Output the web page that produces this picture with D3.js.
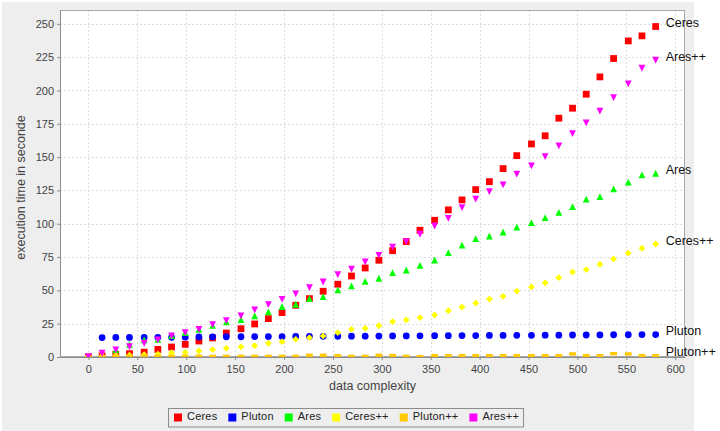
<!DOCTYPE html>
<html>
<head>
<meta charset="utf-8">
<script src="https://cdn.jsdelivr.net/npm/d3@7"></script>
<style>
  html, body { margin: 0; padding: 0; background: #ffffff; }
  svg { display: block; font-family: "Liberation Sans", Arial, sans-serif; }
</style>
</head>
<body>
<svg id="chart" width="720" height="431"></svg>
<script>
// Data complexity (x) for every measurement
const complexity = [0, 14, 28, 42, 57, 71, 85, 99, 113, 127, 141, 156, 170, 184, 198, 212, 226, 240, 255, 269,
  283, 297, 311, 325, 339, 354, 368, 382, 396, 410, 424, 438, 453, 467, 481, 495, 509, 523, 537, 552, 566, 580];

// Execution times in seconds, one array per solver
const ceres = [0, 0.8, 2, 2.5, 3.6, 5.7, 7.5, 9.5, 12, 14.3, 18, 21.2, 24.8, 28.8, 33.3, 38.8, 43.8, 49.3, 54.6, 60.8,
  66.8, 72.6, 79.8, 86.6, 95.1, 102.6, 110.4, 117.9, 125.6, 131.6, 141.4, 151.1, 159.9, 166, 179.2, 186.7, 197.2, 210.2, 224, 237.2, 241, 248];
const pluton = [null, 14.6, 14.7, 14.7, 14.8, 14.8, 14.8, 14.9, 15.0, 15.1, 15.2, 15.2, 15.3, 15.3, 15.3, 15.4, 15.4, 15.5, 15.5, 15.6,
  15.6, 15.7, 15.8, 15.8, 15.9, 16.0, 16.0, 16.1, 16.1, 16.2, 16.2, 16.3, 16.3, 16.4, 16.4, 16.5, 16.5, 16.6, 16.7, 16.7, 16.8, 16.8];
const ares = [0, 2, 5.3, 9.5, 12.8, 13.3, 16, 18.3, 20.8, 23.8, 26.3, 28, 30.8, 33.8, 37.8, 39.6, 43.8, 45.3, 50.3, 53.3,
  56.8, 59.1, 63.3, 65.3, 68.8, 72.8, 78.3, 83.9, 88.8, 90.8, 93.8, 97.4, 100.8, 104.6, 108.6, 112.8, 118.4, 120.3, 126.1, 131.2, 136.6, 137.9];
const ceresPP = [0, 0.8, 1.1, 1.4, 1.8, 2.2, 3.2, 3.5, 4.5, 5.5, 6.5, 7.6, 8.5, 10.3, 11.5, 13.3, 14.5, 15.8, 18.3, 20.8,
  21.5, 23.5, 26.6, 27.8, 29.5, 31.5, 34.8, 37.5, 40.5, 43.5, 45.5, 49.5, 52.6, 55.7, 59.5, 63.8, 65.5, 69.6, 73.6, 77.9, 81.6, 84.8];
const plutonPP = [0, 0.3, 0.5, 0.5, 0.6, 0.5, 0.5, 0.5, 0.6, 0.5, 0.5, 0.5, 0.5, 0.5, 0.5, 0.5, 1.3, 1.3, 1.0, 0.5,
  0.5, 1.3, 1.1, 0.5, 0.3, 1.0, 1.0, 1.0, 1.0, 1.0, 1.0, 1.0, 1.0, 1.0, 1.0, 2.3, 1.0, 1.0, 2.5, 2.3, 1.0, 1.0];
const aresPP = [0.3, 2.8, 5.3, 7.7, 10.3, 12.8, 15.8, 18.3, 20.8, 24.3, 27.3, 30.9, 35.3, 39.3, 43.3, 47.3, 52, 56.3, 61.8, 66,
  71.3, 76.3, 82.5, 86.6, 92.1, 98.3, 104.1, 112.1, 118.4, 124.1, 129.1, 137.2, 143.4, 150.4, 158.4, 167.6, 175.7, 184.5, 194.7, 205, 216.7, 222.7];

const seriesNames = ["Ceres", "Pluton", "Ares", "Ceres++", "Pluton++", "Ares++"];
const seriesValues = [ceres, pluton, ares, ceresPP, plutonPP, aresPP];
const seriesColors = ["#ff0000", "#0000ff", "#00ff00", "#ffff00", "#ffc800", "#ff00ff"];
const seriesShapes = ["square", "circle", "triangleUp", "diamond", "hrect", "triangleDown"];

const xTicks = [0, 50, 100, 150, 200, 250, 300, 350, 400, 450, 500, 550, 600];
const yTicks = [0, 25, 50, 75, 100, 125, 150, 175, 200, 225, 250];

const svg = d3.select("#chart");
const W = 720, H = 431;
const plot = { left: 60, top: 10, right: 685, bottom: 357 };

// chart panel background
svg.append("rect").attr("x", 2).attr("y", 2).attr("width", 692).attr("height", H - 2).attr("fill", "#eeeeee");

const x = d3.scaleLinear().domain([-29.05, 610]).range([plot.left, plot.right]);
const y = d3.scaleLinear().domain([0, 260.4]).range([plot.bottom, plot.top]);

// plot background
svg.append("rect")
  .attr("x", plot.left).attr("y", plot.top)
  .attr("width", plot.right - plot.left).attr("height", plot.bottom - plot.top)
  .attr("fill", "#ffffff");

// grid lines
const grid = svg.append("g").attr("stroke", "#d4d4d4").attr("stroke-width", 0.8).attr("stroke-dasharray", "2,2");
grid.selectAll("line.v").data(xTicks).join("line")
  .attr("x1", d => Math.round(x(d)) + 0.5).attr("x2", d => Math.round(x(d)) + 0.5)
  .attr("y1", plot.top).attr("y2", plot.bottom);
grid.selectAll("line.h").data(yTicks).join("line")
  .attr("y1", d => Math.round(y(d)) + 0.5).attr("y2", d => Math.round(y(d)) + 0.5)
  .attr("x1", plot.left).attr("x2", plot.right);

// plot outline
svg.append("rect")
  .attr("x", plot.left + 0.5).attr("y", plot.top + 0.5)
  .attr("width", plot.right - plot.left - 1).attr("height", plot.bottom - plot.top - 1)
  .attr("fill", "none").attr("stroke", "#a8a8a8").attr("stroke-width", 1);

// axes
const xAxis = d3.axisBottom(x).tickValues(xTicks).tickSizeInner(3).tickSizeOuter(0).tickPadding(3);
const yAxis = d3.axisLeft(y).tickValues(yTicks).tickSizeInner(3).tickSizeOuter(0).tickPadding(3);

const gx = svg.append("g").attr("transform", `translate(0,${plot.bottom})`).call(xAxis);
const gy = svg.append("g").attr("transform", `translate(${plot.left},0)`).call(yAxis);
[gx, gy].forEach(g => {
  g.select(".domain").attr("stroke", "#8c8c8c");
  g.selectAll(".tick line").attr("stroke", "#8c8c8c");
  g.selectAll(".tick text").attr("fill", "#444444").attr("font-size", 11)
    .attr("font-family", "'Liberation Sans', Arial, sans-serif");
});
gx.selectAll(".tick text").attr("dy", "0.9em");

// axis titles
svg.append("text")
  .attr("x", (plot.left + plot.right) / 2).attr("y", 390)
  .attr("text-anchor", "middle").attr("font-size", 12.5).attr("fill", "#444444")
  .text("data complexity");
svg.append("text")
  .attr("transform", `translate(25,${(plot.top + plot.bottom) / 2 + 4}) rotate(-90)`)
  .attr("text-anchor", "middle").attr("font-size", 12.5).attr("fill", "#444444")
  .text("execution time in seconde");

// marker shapes centred on (0,0)
const S = 3.4;
function shapePath(type) {
  const s = S;
  switch (type) {
    case "square": return `M${-s},${-s}H${s}V${s}H${-s}Z`;
    case "circle": return `M${-s},0A${s},${s} 0 1,0 ${s},0A${s},${s} 0 1,0 ${-s},0Z`;
    case "triangleUp": return `M0,${-s}L${s},${s}L${-s},${s}Z`;
    case "diamond": return `M0,${-s}L${s},0L0,${s}L${-s},0Z`;
    case "hrect": return `M${-s},${-s / 2}H${s}V${s / 2}H${-s}Z`;
    case "triangleDown": return `M0,${s}L${s},${-s}L${-s},${-s}Z`;
  }
}

svg.append("clipPath").attr("id", "plotclip").append("rect")
  .attr("x", plot.left).attr("y", plot.top)
  .attr("width", plot.right - plot.left).attr("height", plot.bottom - plot.top);

const marks = svg.append("g").attr("clip-path", "url(#plotclip)");
seriesNames.forEach((name, si) => {
  const pts = complexity.map((c, i) => ({ c, v: seriesValues[si][i] })).filter(p => p.v != null);
  marks.append("g").selectAll("path").data(pts).join("path")
    .attr("d", shapePath(seriesShapes[si]))
    .attr("transform", p => `translate(${x(p.c)},${y(p.v)})`)
    .attr("fill", seriesColors[si]);
});

// series name next to each final point
seriesNames.forEach((name, si) => {
  const vals = seriesValues[si];
  const last = vals.length - 1;
  svg.append("text")
    .attr("x", x(complexity[last]) + 10)
    .attr("y", y(vals[last]) - 2.5)
    .attr("dominant-baseline", "middle")
    .attr("font-size", 12.5).attr("fill", "#111111")
    .text(name);
});

// legend
const legend = svg.append("g");
const itemGroups = seriesNames.map((name, si) => {
  const g = legend.append("g");
  g.append("rect").attr("x", 0).attr("y", -4).attr("width", 8).attr("height", 8).attr("fill", seriesColors[si]);
  g.append("text").attr("x", 13).attr("y", 0).attr("dominant-baseline", "middle")
    .attr("font-size", 11).attr("letter-spacing", 0.2).attr("fill", "#222222").text(name);
  return g;
});
let cursor = 0;
const gap = 11;
itemGroups.forEach((g, i) => {
  g.attr("transform", `translate(${cursor},0)`);
  const w = 13 + g.select("text").node().getComputedTextLength();
  cursor += w + (i < itemGroups.length - 1 ? gap : 0);
});
const legendW = cursor + 10;
const legendCx = (plot.left + plot.right) / 2 - 26;
const legendX = Math.round(legendCx - legendW / 2);
const legendY = 417.5;
legend.insert("rect", ":first-child")
  .attr("x", -5.5).attr("y", -9).attr("width", legendW).attr("height", 18.5)
  .attr("fill", "#eeeeee").attr("stroke", "#8c8c8c").attr("stroke-width", 1);
legend.attr("transform", `translate(${legendX + 5},${legendY})`);
</script>
</body>
</html>
